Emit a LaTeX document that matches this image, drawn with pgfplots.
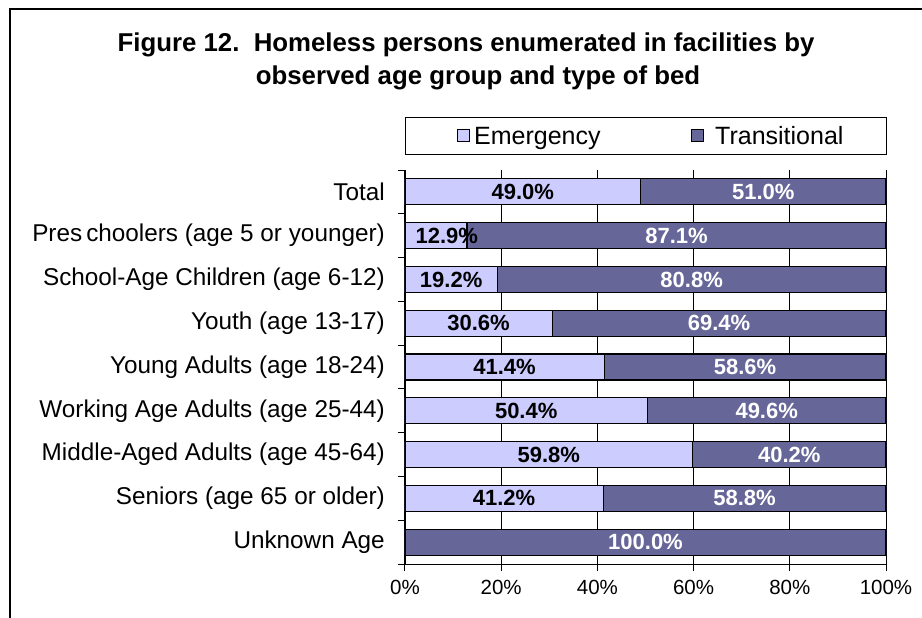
\documentclass[border=0pt]{standalone}
\usepackage{fontspec}
\setmainfont{Liberation Sans}
\usepackage{pgfplots}
\pgfplotsset{compat=1.18}
\usepackage{pgfplotstable}
\definecolor{emcol}{HTML}{CCCCFF}
\definecolor{trcol}{HTML}{666699}

% share of persons by type of bed, top row first
\pgfplotstableread{
em    tr
49.0  51.0
12.9  87.1
19.2  80.8
30.6  69.4
41.4  58.6
50.4  49.6
59.8  40.2
41.2  58.8
0.0   100.0
}\bedtable

\pgfplotsset{
  bedaxis/.style={
    at={(405pt,54pt)}, anchor=south west,
    width=481pt, height=394pt, scale only axis,
    xmin=0, xmax=100, ymin=-0.5, ymax=8.5, y dir=reverse,
  },
}
\tikzset{pct/.style={font=\bfseries\fontsize{22}{26}\selectfont}}

\begin{document}
\begin{tikzpicture}[x=1pt,y=1pt]
\begin{axis}[bedaxis,
  xbar stacked, bar width=26pt,
  axis x line*=bottom, axis y line*=left,
  axis line style={black, line width=1pt},
  xtick={0,20,...,100},
  xticklabel={\pgfmathprintnumber{\tick}\%},
  ytick={0,...,8},
  yticklabels={Total, Pres\,choolers (age 5 or younger), School-Age Children (age 6-12),
    Youth (age 13-17), Young Adults (age 18-24), Working Age Adults (age 25-44),
    Middle-Aged Adults (age 45-64), Seniors (age 65 or older), Unknown Age},
  minor ytick={-0.5,0.5,...,8.5},
  tick align=outside, major tick length=7pt, minor tick length=7pt,
  tick style={black, line width=1pt},
  major y tick style={draw=none},
  xmajorgrids, grid style={black, line width=0.8pt},
  yticklabel style={font=\fontsize{24.3}{28}\selectfont, inner sep=0pt, xshift=-13pt},
  xticklabel style={font=\fontsize{20.5}{24}\selectfont, inner sep=0pt, yshift=-9pt},
  /pgf/number format/assume math mode=true,
]
\addplot[fill=emcol, draw=black, line width=1.2pt] table[x=em, y expr=\coordindex] {\bedtable};
\addplot[fill=trcol, draw=black, line width=1.2pt] table[x=tr, y expr=\coordindex] {\bedtable};
\end{axis}
\begin{axis}[bedaxis, hide axis,
  nodes near coords={\pgfmathprintnumber[fixed, fixed zerofill, precision=1]{\pgfplotspointmeta}\%},
  nodes near coords align={center},
  /pgf/number format/assume math mode=true,
]
% a label that would cross the axis is pushed inside, as in the source
\addplot[draw=none, mark=none, point meta=explicit,
  every node near coord/.append style={pct, text=black},
  skip coords between index={8}{9}]
  table[x expr={max(\thisrow{em}/2,8.7)}, y expr=\coordindex, meta=em] {\bedtable};
\addplot[draw=none, mark=none, point meta=explicit,
  every node near coord/.append style={pct, text=white}]
  table[x expr=\thisrow{em}+\thisrow{tr}/2, y expr=\coordindex, meta=tr] {\bedtable};
\end{axis}

% title
\node[anchor=base, font=\bfseries\fontsize{25.8}{30}\selectfont] at (466,566)
  {Figure 12.\ \ Homeless persons enumerated in facilities by};
\node[anchor=base, font=\bfseries\fontsize{25.8}{30}\selectfont] at (478,533)
  {observed age group and type of bed};

% legend
\draw[line width=1pt] (405,463) rectangle (886,500);
\draw[fill=emcol, line width=1pt] (457,476) rectangle (469,488);
\node[anchor=base west, inner sep=0pt, font=\fontsize{25}{29}\selectfont] at (474,473) {Emergency};
\draw[fill=trcol, line width=1pt] (691,476) rectangle (703,488);
\node[anchor=base west, inner sep=0pt, font=\fontsize{25}{29}\selectfont] at (715,473) {Transitional};

% outer frame, cut by the page edge on the right and bottom
\draw[line width=1.3pt] (10,-5) -- (10,609) -- (930,609);

\pgfresetboundingbox
\path[use as bounding box] (0,0) rectangle (922,618);
\end{tikzpicture}
\end{document}
